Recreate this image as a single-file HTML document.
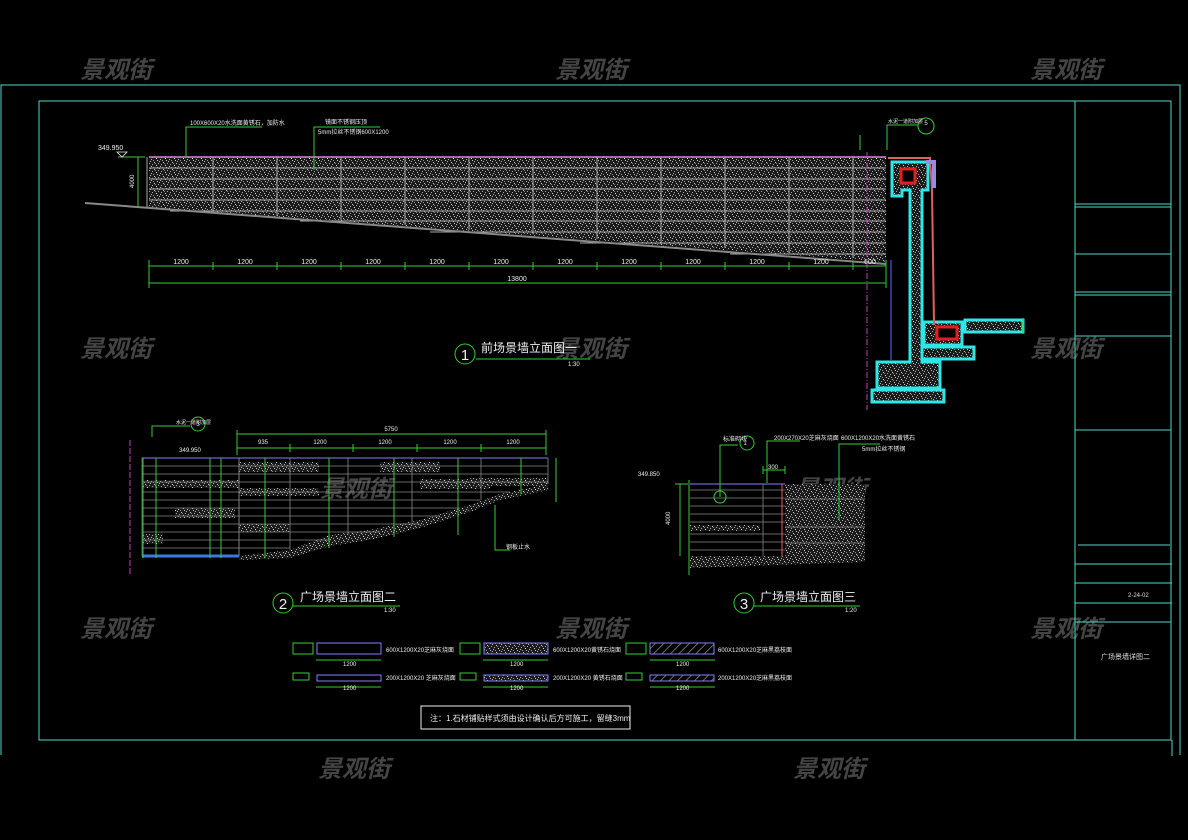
<!DOCTYPE html>
<html><head><meta charset="utf-8">
<style>
html,body{margin:0;padding:0;background:#000;}
svg{display:block;}
text{font-family:"Liberation Sans","Noto Sans CJK SC",sans-serif;}
</style></head>
<body>
<svg width="1188" height="840" viewBox="0 0 1188 840" xmlns="http://www.w3.org/2000/svg">
<defs>
<pattern id="sp" width="9" height="7" patternUnits="userSpaceOnUse">
<rect width="9" height="7" fill="#1a1a1a"/>
<rect x="1" y="1" width="1" height="1" fill="#ccc"/><rect x="5" y="2" width="1" height="1" fill="#aaa"/>
<rect x="3" y="4" width="1" height="1" fill="#ddd"/><rect x="7" y="5" width="1" height="1" fill="#bbb"/>
<rect x="0" y="6" width="1" height="1" fill="#999"/><rect x="6" y="0" width="1" height="1" fill="#bbb"/>
<rect x="2" y="2" width="1" height="1" fill="#888"/><rect x="8" y="3" width="1" height="1" fill="#aaa"/>
<rect x="4" y="6" width="1" height="1" fill="#ccc"/>
</pattern>
<pattern id="hatch" width="6" height="6" patternUnits="userSpaceOnUse" patternTransform="rotate(45)">
<rect width="6" height="6" fill="#000"/><line x1="0" y1="0" x2="0" y2="6" stroke="#888" stroke-width="1.5"/>
</pattern>
</defs>

<g fill="#444" font-size="24" font-style="italic" font-weight="bold">
<text x="80" y="78">景观街</text><text x="555" y="78">景观街</text><text x="1030" y="78">景观街</text>
<text x="80" y="357">景观街</text><text x="555" y="357">景观街</text><text x="1030" y="357">景观街</text>
<text x="80" y="637">景观街</text><text x="555" y="637">景观街</text><text x="1030" y="637">景观街</text>
<text x="318" y="777">景观街</text><text x="793" y="777">景观街</text>
<text x="320" y="497">景观街</text><text x="795" y="497">景观街</text>
</g>

<g stroke="#4fd6c8" stroke-width="1" fill="none">
<polyline points="1,755 1,85 1180,85 1180,755"/>
<rect x="39" y="101" width="1132" height="639"/>
<line x1="1075" y1="101" x2="1075" y2="740"/>
<line x1="1075" y1="204" x2="1171" y2="204"/><line x1="1075" y1="207" x2="1171" y2="207"/>
<line x1="1075" y1="254" x2="1171" y2="254"/>
<line x1="1075" y1="292" x2="1171" y2="292"/><line x1="1075" y1="295" x2="1171" y2="295"/>
<line x1="1075" y1="336" x2="1171" y2="336"/>
<line x1="1075" y1="430" x2="1171" y2="430"/>
<line x1="1078" y1="545" x2="1170" y2="545"/>
<line x1="1075" y1="564" x2="1172" y2="564"/>
<line x1="1075" y1="583" x2="1172" y2="583"/>
<line x1="1075" y1="603" x2="1172" y2="603"/>
<line x1="1075" y1="622" x2="1171" y2="622"/>
<line x1="1172" y1="740" x2="1172" y2="756"/>
</g>
<text x="1128" y="597" fill="#ddd" font-size="6">2-24-02</text>
<text x="1101" y="659" fill="#ddd" font-size="7">广场景墙详图二</text>

<polygon points="149,157 886,157 886,262 149,207" fill="url(#sp)"/>
<g stroke="#aaa" stroke-width="1">
<line x1="149" y1="168" x2="886" y2="168"/><line x1="149" y1="179" x2="886" y2="179"/>
<line x1="149" y1="189" x2="886" y2="189"/><line x1="149" y1="200" x2="886" y2="200"/>
<line x1="170" y1="211" x2="886" y2="211"/><line x1="300" y1="221" x2="886" y2="221"/>
<line x1="430" y1="232" x2="886" y2="232"/><line x1="580" y1="243" x2="886" y2="243"/>
<line x1="730" y1="254" x2="886" y2="254"/>
<line x1="213" y1="157" x2="213" y2="212"/><line x1="277" y1="157" x2="277" y2="216"/>
<line x1="341" y1="157" x2="341" y2="220"/><line x1="405" y1="157" x2="405" y2="225"/>
<line x1="469" y1="157" x2="469" y2="230"/><line x1="533" y1="157" x2="533" y2="234"/>
<line x1="597" y1="157" x2="597" y2="239"/><line x1="661" y1="157" x2="661" y2="244"/>
<line x1="725" y1="157" x2="725" y2="248"/><line x1="789" y1="157" x2="789" y2="253"/>
<line x1="853" y1="157" x2="853" y2="258"/>
<line x1="85" y1="203" x2="886" y2="264" stroke-width="2" stroke="#888"/>
</g>
<line x1="149" y1="157" x2="886" y2="157" stroke="#e080e0" stroke-width="1.5"/>
<line x1="147" y1="157" x2="147" y2="207" stroke="#aaa"/>
<g stroke="#3c3" fill="none" stroke-width="1">
<polyline points="186,158 186,127 262,127"/>
<polyline points="314,170 314,127 380,127"/>
<line x1="118" y1="157" x2="145" y2="157"/>
<line x1="138" y1="157" x2="138" y2="207"/>
<line x1="860" y1="135" x2="860" y2="150"/>
</g>
<text x="190" y="125" fill="#eee" font-size="6">100X600X20水洗面黄锈石，加防水</text>
<text x="325" y="124" fill="#eee" font-size="6">镜面不锈钢压顶</text>
<text x="318" y="134" fill="#eee" font-size="6">5mm拉丝不锈钢600X1200</text>
<text x="98" y="150" fill="#eee" font-size="7">349.950</text>
<polygon points="117,152 127,152 122,157" fill="none" stroke="#eee" stroke-width="0.8"/>
<text x="134" y="188" fill="#eee" font-size="6" transform="rotate(-90 134 188)">4000</text>
<g stroke="#3c3" stroke-width="1">
<line x1="149" y1="266" x2="886" y2="266"/><line x1="149" y1="283" x2="886" y2="283"/>
<line x1="149" y1="260" x2="149" y2="288"/><line x1="213" y1="262" x2="213" y2="270"/>
<line x1="277" y1="262" x2="277" y2="270"/><line x1="341" y1="262" x2="341" y2="270"/>
<line x1="405" y1="262" x2="405" y2="270"/><line x1="469" y1="262" x2="469" y2="270"/>
<line x1="533" y1="262" x2="533" y2="270"/><line x1="597" y1="262" x2="597" y2="270"/>
<line x1="661" y1="262" x2="661" y2="270"/><line x1="725" y1="262" x2="725" y2="270"/>
<line x1="789" y1="262" x2="789" y2="270"/><line x1="853" y1="262" x2="853" y2="270"/>
<line x1="886" y1="260" x2="886" y2="288"/>
</g>
<g fill="#eee" font-size="7" text-anchor="middle">
<text x="181" y="264">1200</text><text x="245" y="264">1200</text><text x="309" y="264">1200</text>
<text x="373" y="264">1200</text><text x="437" y="264">1200</text><text x="501" y="264">1200</text>
<text x="565" y="264">1200</text><text x="629" y="264">1200</text><text x="693" y="264">1200</text>
<text x="757" y="264">1200</text><text x="821" y="264">1200</text><text x="870" y="264">600</text>
<text x="517" y="281">13800</text>
</g>
<circle cx="465" cy="354" r="10" fill="none" stroke="#3c3"/>
<text x="465" y="360" fill="#eee" font-size="15" text-anchor="middle">1</text>
<text x="481" y="352" fill="#eee" font-size="12">前场景墙立面图一</text>
<line x1="476" y1="359" x2="590" y2="359" stroke="#3c3"/>
<text x="568" y="366" fill="#eee" font-size="6">1:30</text>

<line x1="867" y1="152" x2="867" y2="410" stroke="#c040c0" stroke-dasharray="6,2,1,2"/>
<line x1="891" y1="260" x2="891" y2="360" stroke="#66f"/>
<g fill="url(#sp)" stroke="#2ee6e6" stroke-width="3">
<polygon points="892,162 928,162 928,190 922,190 922,362 940,362 940,388 877,388 877,362 910,362 910,190 902,190 902,196 892,196"/>
<rect x="872" y="390" width="72" height="12"/>
<polygon points="924,322 962,322 962,345 924,345"/>
<rect x="965" y="320" width="58" height="12"/>
<rect x="922" y="347" width="52" height="12"/>
</g>
<rect x="901" y="169" width="14" height="14" fill="#000" stroke="#e02020" stroke-width="3"/>
<rect x="937" y="327" width="20" height="12" fill="#000" stroke="#e02020" stroke-width="3"/>
<polyline points="888,158 930,158 932,190 934,325" fill="none" stroke="#e06060" stroke-width="2"/>
<polyline points="926,162 934,162 934,188" fill="none" stroke="#9a8ae0" stroke-width="4"/>
<g stroke="#3c3" fill="none">
<polyline points="887,150 887,125 918,125"/>
<circle cx="926" cy="126" r="8"/>
<line x1="1023" y1="318" x2="1023" y2="334"/>
</g>
<text x="888" y="123" fill="#eee" font-size="5">水泥一道附加层</text>
<text x="926" y="125" fill="#eee" font-size="6" text-anchor="middle">5</text>

<rect x="142" y="458" width="97" height="98" fill="none" stroke="#666"/>
<g fill="url(#sp)">
<rect x="143" y="480" width="96" height="8"/>
<rect x="175" y="508" width="60" height="10"/>
<rect x="143" y="534" width="20" height="10"/>
<rect x="239" y="462" width="80" height="10"/>
<rect x="239" y="488" width="80" height="8"/>
<rect x="239" y="524" width="50" height="8"/>
<rect x="380" y="462" width="60" height="10"/>
<rect x="420" y="479" width="70" height="10"/>
<rect x="470" y="478" width="78" height="8"/>
<polygon points="239,556 290,550 330,535 370,530 420,520 470,505 500,494 548,484 548,490 500,500 470,512 420,528 370,540 330,546 290,558 239,560" />
</g>
<g stroke="#888" stroke-width="0.8">
<line x1="142" y1="466" x2="548" y2="466"/><line x1="142" y1="474" x2="548" y2="474"/>
<line x1="142" y1="482" x2="548" y2="482"/><line x1="142" y1="492" x2="510" y2="492"/>
<line x1="142" y1="500" x2="480" y2="500"/><line x1="142" y1="508" x2="460" y2="508"/>
<line x1="142" y1="516" x2="440" y2="516"/><line x1="142" y1="524" x2="420" y2="524"/>
<line x1="142" y1="532" x2="380" y2="532"/><line x1="142" y1="540" x2="330" y2="540"/>
<line x1="142" y1="548" x2="290" y2="548"/>
<line x1="239" y1="458" x2="239" y2="556"/><line x1="290" y1="458" x2="290" y2="550"/>
<line x1="348" y1="458" x2="348" y2="535"/><line x1="412" y1="458" x2="412" y2="522"/>
<line x1="481" y1="458" x2="481" y2="500"/><line x1="548" y1="458" x2="548" y2="484"/>
</g>
<line x1="142" y1="458" x2="548" y2="458" stroke="#8080ff"/>
<line x1="142" y1="556" x2="239" y2="556" stroke="#3a7ae0" stroke-width="3"/>
<line x1="130" y1="440" x2="130" y2="575" stroke="#c040c0" stroke-dasharray="6,2"/>
<g stroke="#3c3" fill="none" stroke-width="1">
<line x1="237" y1="434" x2="546" y2="434"/><line x1="237" y1="448" x2="546" y2="448"/>
<line x1="237" y1="430" x2="237" y2="455"/><line x1="546" y1="430" x2="546" y2="455"/>
<line x1="290" y1="444" x2="290" y2="452"/><line x1="353" y1="444" x2="353" y2="452"/>
<line x1="417" y1="444" x2="417" y2="452"/><line x1="481" y1="444" x2="481" y2="452"/>
<line x1="143" y1="458" x2="143" y2="558"/><line x1="156" y1="458" x2="156" y2="558"/>
<line x1="210" y1="458" x2="210" y2="558"/><line x1="221" y1="458" x2="221" y2="558"/>
<line x1="265" y1="458" x2="265" y2="558"/><line x1="329" y1="458" x2="329" y2="548"/>
<line x1="394" y1="458" x2="394" y2="537"/><line x1="458" y1="458" x2="458" y2="535"/>
<line x1="521" y1="458" x2="521" y2="494"/><line x1="556" y1="458" x2="556" y2="502"/>
<polyline points="495,505 495,550 510,550"/>
<polyline points="152,437 152,426 190,426"/><circle cx="198" cy="424" r="7"/>
</g>
<g fill="#eee" font-size="6" text-anchor="middle">
<text x="391" y="431">5750</text><text x="263" y="444">935</text><text x="320" y="444">1200</text>
<text x="385" y="444">1200</text><text x="450" y="444">1200</text><text x="513" y="444">1200</text>
<text x="190" y="452">349.950</text><text x="518" y="549">钢板止水</text>
</g>
<text x="176" y="424" fill="#eee" font-size="5">水泥一道附加层</text>
<text x="198" y="426" fill="#eee" font-size="6" text-anchor="middle">3</text>
<circle cx="283" cy="603" r="10" fill="none" stroke="#3c3"/>
<text x="283" y="609" fill="#eee" font-size="15" text-anchor="middle">2</text>
<text x="300" y="601" fill="#eee" font-size="12">广场景墙立面图二</text>
<line x1="293" y1="606" x2="400" y2="606" stroke="#3c3"/>
<text x="384" y="612" fill="#eee" font-size="6">1:30</text>

<g fill="url(#sp)">
<rect x="785" y="484" width="80" height="73"/>
<rect x="690" y="525" width="70" height="6"/>
<polygon points="690,556 865,556 865,562 690,568"/>
</g>
<g stroke="#888" stroke-width="0.8">
<line x1="690" y1="490" x2="785" y2="490"/><line x1="690" y1="498" x2="785" y2="498"/>
<line x1="690" y1="506" x2="785" y2="506"/><line x1="690" y1="514" x2="785" y2="514"/>
<line x1="690" y1="522" x2="785" y2="522"/><line x1="690" y1="534" x2="785" y2="534"/>
<line x1="690" y1="542" x2="785" y2="542"/><line x1="690" y1="550" x2="785" y2="550"/>
<line x1="785" y1="499" x2="865" y2="499"/><line x1="785" y1="527" x2="865" y2="527"/>
<line x1="785" y1="543" x2="865" y2="543"/>
<line x1="763" y1="484" x2="763" y2="556"/><line x1="782" y1="484" x2="782" y2="556"/>
</g>
<line x1="690" y1="484" x2="785" y2="484" stroke="#8080ff"/>
<line x1="782" y1="484" x2="782" y2="556" stroke="#e06060"/>
<g stroke="#3c3" fill="none" stroke-width="1">
<line x1="689" y1="480" x2="689" y2="575"/>
<line x1="675" y1="484" x2="688" y2="484"/><line x1="680" y1="484" x2="680" y2="556"/>
<polyline points="720,497 720,445 738,445"/><circle cx="747" cy="443" r="7"/><circle cx="720" cy="497" r="6"/>
<polyline points="767,483 767,441 800,441"/>
<polyline points="839,520 839,444 880,444"/>
<line x1="763" y1="470" x2="785" y2="470"/><line x1="763" y1="466" x2="763" y2="474"/><line x1="785" y1="466" x2="785" y2="474"/>
</g>
<g fill="#eee" font-size="6">
<text x="723" y="441">标准砌块</text><text x="745" y="445" text-anchor="middle">1</text>
<text x="774" y="440">200X270X20芝麻灰烧面</text>
<text x="841" y="440">600X1200X20水洗面黄锈石</text>
<text x="862" y="451">5mm拉丝不锈钢</text>
<text x="768" y="469">300</text>
<text x="638" y="476">349.850</text>
<text x="670" y="525" transform="rotate(-90 670 525)">4000</text>
</g>
<circle cx="744" cy="603" r="10" fill="none" stroke="#3c3"/>
<text x="744" y="609" fill="#eee" font-size="15" text-anchor="middle">3</text>
<text x="760" y="601" fill="#eee" font-size="12">广场景墙立面图三</text>
<line x1="754" y1="606" x2="860" y2="606" stroke="#3c3"/>
<text x="845" y="612" fill="#eee" font-size="6">1:20</text>

<g stroke="#3c3" fill="none">
<rect x="293" y="643" width="20" height="11"/><rect x="460" y="643" width="20" height="11"/><rect x="626" y="643" width="20" height="11"/>
<rect x="293" y="673" width="16" height="7"/><rect x="460" y="673" width="16" height="7"/><rect x="626" y="673" width="16" height="7"/>
<line x1="316" y1="660" x2="381" y2="660"/><line x1="483" y1="660" x2="548" y2="660"/><line x1="650" y1="660" x2="715" y2="660"/>
<line x1="316" y1="687" x2="381" y2="687"/><line x1="483" y1="687" x2="548" y2="687"/><line x1="650" y1="687" x2="715" y2="687"/>
</g>
<rect x="317" y="643" width="64" height="11" fill="none" stroke="#8080ff"/>
<rect x="484" y="643" width="64" height="11" fill="url(#sp)" stroke="#8080ff"/>
<rect x="650" y="643" width="64" height="11" fill="url(#hatch)" stroke="#8080ff"/>
<rect x="317" y="675" width="64" height="6" fill="none" stroke="#8080ff"/>
<rect x="484" y="675" width="64" height="6" fill="url(#sp)" stroke="#8080ff"/>
<rect x="650" y="675" width="64" height="6" fill="url(#hatch)" stroke="#8080ff"/>
<g fill="#eee" font-size="6">
<text x="343" y="666">1200</text><text x="510" y="666">1200</text><text x="676" y="666">1200</text>
<text x="343" y="690">1200</text><text x="510" y="690">1200</text><text x="676" y="690">1200</text>
<text x="386" y="652">600X1200X20芝麻灰烧面</text><text x="553" y="652">600X1200X20黄锈石烧面</text><text x="718" y="652">600X1200X20芝麻黑荔枝面</text>
<text x="386" y="680">200X1200X20 芝麻灰烧面</text><text x="553" y="680">200X1200X20 黄锈石烧面</text><text x="718" y="680">200X1200X20芝麻黑荔枝面</text>
</g>
<rect x="421" y="706" width="209" height="23" fill="none" stroke="#eee"/>
<text x="430" y="721" fill="#eee" font-size="8">注：1.石材铺贴样式须由设计确认后方可施工，留缝3mm</text>
</svg>
</body></html>
